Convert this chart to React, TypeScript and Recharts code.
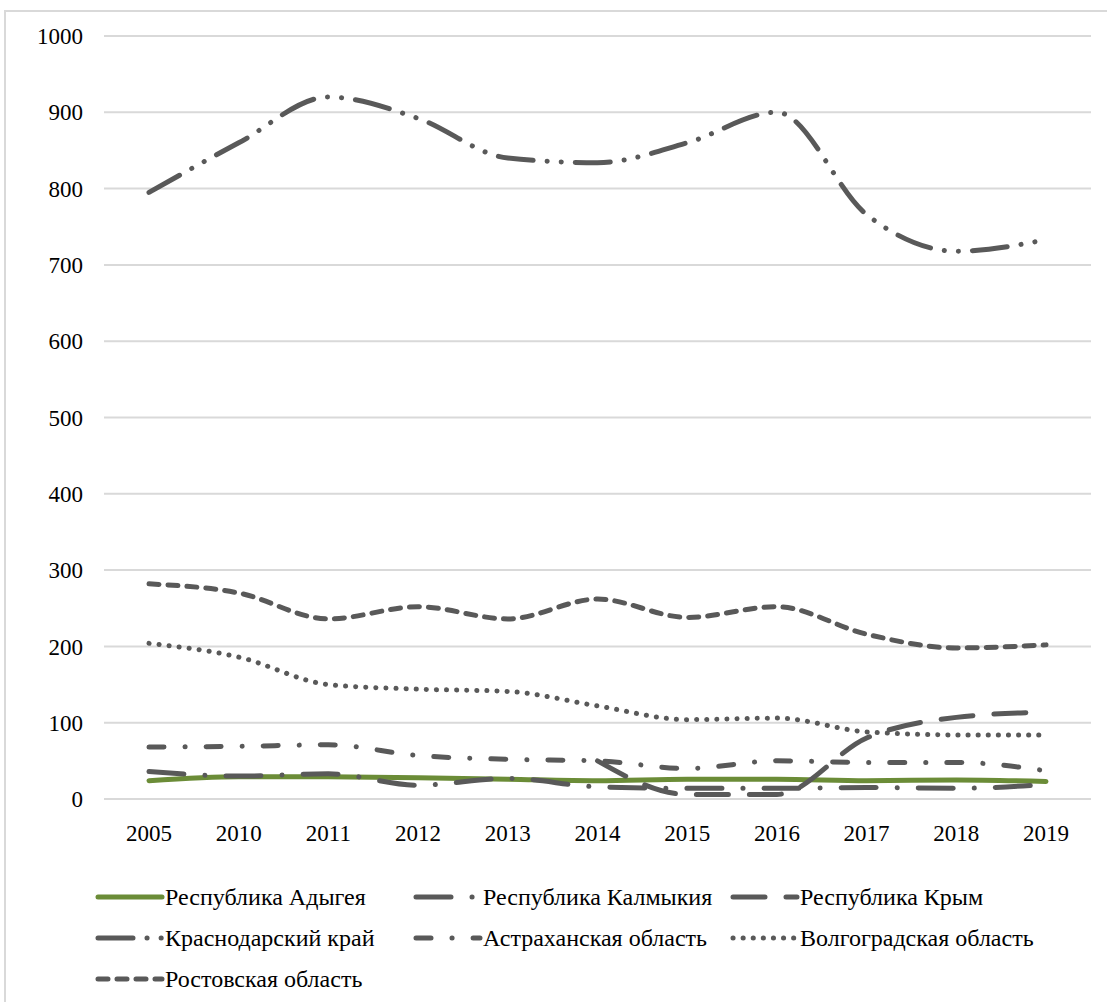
import React from "react";
import {
  LineChart,
  Line,
  XAxis,
  YAxis,
  CartesianGrid,
} from "recharts";

const years = ["2005", "2010", "2011", "2012", "2013", "2014", "2015", "2016", "2017", "2018", "2019"];

const adygea = [24, 29, 29, 28, 26, 24, 26, 26, 24, 25, 23];
const kalmykia = [36, 30, 33, 18, 27, 16, 14, 14, 15, 14, 19];
const krym = [null, null, null, null, null, 50, 6, 6, 80, 107, 114];
const krasnodar = [795, 860, 920, 892, 840, 834, 860, 900, 766, 718, 733];
const astrakhan = [68, 69, 71, 57, 52, 50, 40, 50, 48, 48, 37];
const volgograd = [204, 186, 150, 144, 141, 122, 104, 106, 88, 84, 84];
const rostov = [282, 270, 236, 252, 236, 262, 238, 252, 216, 198, 202];

const yTicks = [0, 100, 200, 300, 400, 500, 600, 700, 800, 900, 1000];

const FONT = '"Liberation Serif", "Times New Roman", serif';
const GREY = "#595959";

type SeriesDef = {
  key: string;
  name: string;
  values: (number | null)[];
  color: string;
  dash?: string;
};

const series: SeriesDef[] = [
  { key: "adygea", name: "Республика Адыгея", values: adygea, color: "#6b8c37" },
  { key: "kalmykia", name: "Республика Калмыкия", values: kalmykia, color: GREY, dash: "35 21 0.1 21" },
  { key: "krym", name: "Республика Крым", values: krym, color: GREY, dash: "32 21" },
  { key: "krasnodar", name: "Краснодарский край", values: krasnodar, color: GREY, dash: "35 14 0.1 14 0.1 14" },
  { key: "astrakhan", name: "Астраханская область", values: astrakhan, color: GREY, dash: "15 21 0.1 21" },
  { key: "volgograd", name: "Волгоградская область", values: volgograd, color: GREY, dash: "0.1 10" },
  { key: "rostov", name: "Ростовская область", values: rostov, color: GREY, dash: "10 9" },
];

const data = years.map((year, i) => {
  const row: Record<string, string | number | null> = { year };
  series.forEach((s) => {
    row[s.key] = s.values[i];
  });
  return row;
});

// legend grid: three columns, filled row by row
const legendCols = [95, 413, 730];
const legendRows = [897, 938, 979];

function LegendBlock() {
  return (
    <>
      {series.map((s, i) => {
        const col = i % 3;
        const row = Math.floor(i / 3);
        const left = legendCols[col];
        const cy = legendRows[row];
        return (
          <div
            key={s.key}
            style={{
              position: "absolute",
              left,
              top: cy - 16,
              height: 32,
              display: "flex",
              alignItems: "center",
              fontFamily: FONT,
              fontSize: 24,
              color: "#000",
              whiteSpace: "nowrap",
            }}
          >
            <svg width={70} height={10} style={{ display: "block" }}>
              <line
                x1={3}
                y1={5}
                x2={67}
                y2={5}
                stroke={s.color}
                strokeWidth={5}
                strokeLinecap="round"
                strokeDasharray={s.dash}
              />
            </svg>
            <span>{s.name}</span>
          </div>
        );
      })}
    </>
  );
}

export default function App() {
  return (
    <div
      style={{
        position: "absolute",
        left: 0,
        top: 0,
        width: 1107,
        height: 1002,
        background: "#fff",
        overflow: "hidden",
      }}
    >
      <div
        style={{
          position: "absolute",
          left: 4,
          top: 10,
          width: 1120,
          height: 1010,
          borderLeft: "2px solid #d9d9d9",
          borderTop: "2px solid #d9d9d9",
        }}
      />
      <LineChart
        width={1107}
        height={1002}
        data={data}
        margin={{ top: 36, right: 16, left: 0, bottom: 163 }}
        style={{ position: "absolute", left: 0, top: 0 }}
      >
        <CartesianGrid stroke="#d9d9d9" strokeWidth={2} vertical={false} />
        <XAxis
          dataKey="year"
          height={40}
          padding={{ left: 45, right: 45 }}
          axisLine={false}
          tickLine={false}
          tickMargin={20}
          tick={{ fill: "#000", fontSize: 23, fontFamily: FONT }}
          interval={0}
        />
        <YAxis
          width={104}
          domain={[0, 1000]}
          ticks={yTicks}
          axisLine={false}
          tickLine={false}
          tickMargin={15}
          tick={{ fill: "#000", fontSize: 23, fontFamily: FONT }}
        />
        {series.map((s) => (
          <Line
            key={s.key}
            type="monotone"
            dataKey={s.key}
            name={s.name}
            stroke={s.color}
            strokeWidth={5}
            strokeLinecap="round"
            strokeDasharray={s.dash}
            dot={false}
            activeDot={false}
            connectNulls={false}
            isAnimationActive={false}
          />
        ))}
      </LineChart>
      <LegendBlock />
    </div>
  );
}
